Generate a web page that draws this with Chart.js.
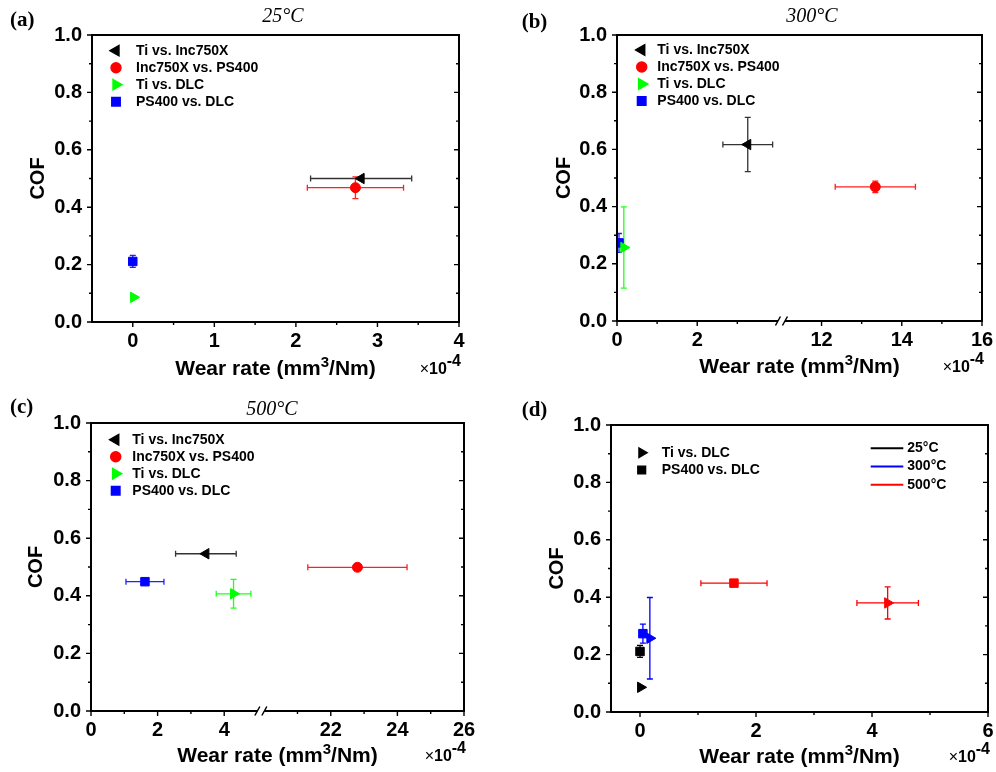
<!DOCTYPE html>
<html lang="en">
<head>
<meta charset="UTF-8" />
<title>COF vs wear rate</title>
<script src="https://cdn.jsdelivr.net/npm/chart.js"></script>
<style>
  body { margin: 0; background: #fff; }
  .panel { position: absolute; width: 498px; height: 386px; }
</style>
</head>
<body>
<div class="panel" style="left:0;top:0"><canvas id="chartA" width="498" height="386"></canvas></div>
<div class="panel" style="left:498px;top:0"><canvas id="chartB" width="498" height="386"></canvas></div>
<div class="panel" style="left:0;top:386px"><canvas id="chartC" width="498" height="386"></canvas></div>
<div class="panel" style="left:498px;top:386px"><canvas id="chartD" width="498" height="386"></canvas></div>
<script>
// tribo pairs, panels a-c
const pairs = ['Ti vs. Inc750X', 'Inc750X vs. PS400', 'Ti vs. DLC', 'PS400 vs. DLC'];

// (a) 25°C  (wear rate in 1e-4 mm3/Nm)
const wear25 = [2.80, 2.73, 0.01, 0.00];
const wear25Err = [0.62, 0.59, 0, 0];
const cof25 = [0.500, 0.468, 0.086, 0.211];
const cof25Err = [0, 0.038, 0, 0.021];

// (b) 300°C
const wear300 = [3.26, 13.34, 0.17, 0.05];
const wear300Err = [0.62, 1.00, 0, 0];
const cof300 = [0.617, 0.469, 0.257, 0.273];
const cof300Err = [0.095, 0.020, 0.142, 0.033];

// (c) 500°C
const wear500 = [3.45, 22.80, 4.28, 1.62];
const wear500Err = [0.91, 1.49, 0.52, 0.57];
const cof500 = [0.546, 0.499, 0.407, 0.449];
const cof500Err = [0, 0.008, 0.050, 0];

// (d) DLC pairs per temperature: [Ti vs. DLC, PS400 vs. DLC]
const temps = ['25°C', '300°C', '500°C'];
const dlcPairs = ['Ti vs. DLC', 'PS400 vs. DLC'];
const dlcWear = [[0.01, 0.00], [0.17, 0.05], [4.27, 1.62]];
const dlcWearErr = [[0, 0], [0, 0], [0.53, 0.57]];
const dlcCof = [[0.086, 0.211], [0.257, 0.273], [0.380, 0.449]];
const dlcCofErr = [[0, 0.021], [0.142, 0.033], [0.056, 0]];

// tick labels
const yTicks = [0, 0.2, 0.4, 0.6, 0.8, 1.0];
const yMinor = [0.1, 0.3, 0.5, 0.7, 0.9];
const xTicksA = [0, 1, 2, 3, 4];
const xMinorA = [0.5, 1.5, 2.5, 3.5];
const xTicksB = [0, 2, 12, 14, 16];
const xMinorB = [1, 3, 13, 15];
const xTicksC = [0, 2, 4, 22, 24, 26];
const xMinorC = [1, 3, 21, 23, 25];
const xTicksD = [0, 2, 4, 6];
const xMinorD = [1, 3, 5];

// styles
const pairColors = ['#000000', '#ff0000', '#00ff00', '#0000ff'];
const pairBars = ['#333333', '#ff2020', '#20ff20', '#2020ff'];
const pairMarks = [
  { style: 'triangle', rot: -90, r: 6 },
  { style: 'circle', rot: 0, r: 5 },
  { style: 'triangle', rot: 90, r: 6 },
  { style: 'rect', rot: 0, r: 6 }
];
const tempColors = ['#000000', '#0000ff', '#ff0000'];

const FONT = 'Liberation Sans';
Chart.defaults.font.family = FONT;
Chart.defaults.color = '#000';

// broken axis: values above b are shifted down so the gap a..b disappears
const brk = (a, b) => v => (v <= a ? v : v - (b - a));
const same = v => v;
const mapB = brk(4.1, 11.0);
const mapC = brk(5.1, 19.9);

function point(x, xe, y, ye, map) {
  return { x: map(x), y: y, xLo: map(x - xe), xHi: map(x + xe), yLo: y - ye, yHi: y + ye };
}

function pairSets(wear, wearErr, cof, cofErr, map) {
  return pairs.map((name, i) => ({
    label: name,
    data: [point(wear[i], wearErr[i], cof[i], cofErr[i], map)],
    pointStyle: pairMarks[i].style,
    rotation: pairMarks[i].rot,
    pointRadius: pairMarks[i].r,
    pointBorderWidth: 1,
    backgroundColor: pairColors[i],
    borderColor: pairColors[i],
    barColor: pairBars[i]
  }));
}

const dSets = temps.map((t, k) => ({
  label: t,
  data: dlcPairs.map((p, j) => point(dlcWear[k][j], dlcWearErr[k][j], dlcCof[k][j], dlcCofErr[k][j], same)),
  pointStyle: ['triangle', 'rect'],
  rotation: [90, 0],
  pointRadius: [6, 6],
  pointBorderWidth: 1,
  backgroundColor: tempColors[k],
  borderColor: tempColors[k],
  barColor: tempColors[k]
}));

function mark(ctx, style, rot, r, x, y, color) {
  ctx.fillStyle = color;
  ctx.strokeStyle = color;
  Chart.helpers.drawPoint(ctx, { pointStyle: style, rotation: rot, radius: r, borderWidth: 1 }, x, y);
}

function richText(ctx, parts, x, y, align) {
  let w = 0;
  parts.forEach(p => { ctx.font = p.font; w += ctx.measureText(p.t).width; });
  let cx = align === 'center' ? x - w / 2 : align === 'right' ? x - w : x;
  ctx.textAlign = 'left';
  ctx.textBaseline = 'alphabetic';
  parts.forEach(p => {
    ctx.font = p.font;
    ctx.fillText(p.t, cx, y + (p.dy || 0));
    cx += ctx.measureText(p.t).width;
  });
}

function framePlugin(cfg) {
  return {
    id: 'frame' + cfg.tag,
    beforeDatasetsDraw(chart) {
      const ctx = chart.ctx, xs = chart.scales.x, ys = chart.scales.y;
      ctx.save();
      ctx.lineWidth = 1.3;
      chart.data.datasets.forEach(ds => ds.data.forEach(d => {
        const px = xs.getPixelForValue(d.x), py = ys.getPixelForValue(d.y);
        ctx.strokeStyle = ds.barColor;
        ctx.beginPath();
        if (d.xHi > d.x) {
          const a = xs.getPixelForValue(d.xLo), b = xs.getPixelForValue(d.xHi);
          ctx.moveTo(a, py); ctx.lineTo(b, py);
          ctx.moveTo(a, py - 3); ctx.lineTo(a, py + 3);
          ctx.moveTo(b, py - 3); ctx.lineTo(b, py + 3);
        }
        if (d.yHi > d.y) {
          const a = ys.getPixelForValue(d.yLo), b = ys.getPixelForValue(d.yHi);
          ctx.moveTo(px, a); ctx.lineTo(px, b);
          ctx.moveTo(px - 3, a); ctx.lineTo(px + 3, a);
          ctx.moveTo(px - 3, b); ctx.lineTo(px + 3, b);
        }
        ctx.stroke();
      }));
      ctx.restore();
    },
    afterDraw(chart) {
      const ctx = chart.ctx, xs = chart.scales.x, ys = chart.scales.y;
      const { left, right, top, bottom } = chart.chartArea;
      ctx.save();
      ctx.strokeStyle = '#000';
      ctx.lineWidth = 2;
      ctx.strokeRect(left, top, right - left, bottom - top);

      // ticks: left/bottom outward, right inward
      ctx.lineWidth = 1.4;
      ctx.beginPath();
      const yt = (vals, len) => vals.forEach(v => {
        const p = ys.getPixelForValue(v);
        ctx.moveTo(left - len, p); ctx.lineTo(left, p);
        ctx.moveTo(right - len, p); ctx.lineTo(right, p);
      });
      const xt = (vals, len) => vals.forEach(v => {
        const p = xs.getPixelForValue(cfg.map(v));
        ctx.moveTo(p, bottom); ctx.lineTo(p, bottom + len);
      });
      yt(yTicks, 5); yt(yMinor, 3);
      xt(cfg.xTicks, 5); xt(cfg.xMinor, 3);
      ctx.stroke();

      // axis break marks
      if (cfg.breakAt != null) {
        const p = xs.getPixelForValue(cfg.breakAt);
        ctx.fillStyle = '#fff';
        ctx.fillRect(p - 3.5, bottom - 2, 7, 4);
        ctx.lineWidth = 1.5;
        ctx.beginPath();
        [-3.5, 3.5].forEach(o => {
          ctx.moveTo(p + o - 2.5, bottom + 4.5);
          ctx.lineTo(p + o + 2.5, bottom - 4.5);
        });
        ctx.stroke();
      }

      ctx.fillStyle = '#000';
      // x axis title with superscript
      const cx = (left + right) / 2;
      richText(ctx, [
        { t: 'Wear rate (mm', font: 'bold 21px "' + FONT + '"' },
        { t: '3', font: 'bold 15px "' + FONT + '"', dy: -8 },
        { t: '/Nm)', font: 'bold 21px "' + FONT + '"' }
      ], cx, cfg.titleY, 'center');
      richText(ctx, [
        { t: '×', font: '16px "' + FONT + '"' },
        { t: '10', font: 'bold 16px "' + FONT + '"' },
        { t: '-4', font: 'bold 16px "' + FONT + '"', dy: -8 }
      ], right + 2, cfg.titleY - 1, 'right');

      // panel label and temperature
      ctx.textBaseline = 'middle';
      ctx.textAlign = 'left';
      ctx.font = 'bold 21px "Liberation Serif"';
      ctx.fillText(cfg.label[0], cfg.label[1], cfg.label[2]);
      if (cfg.temp) {
        ctx.textAlign = 'center';
        ctx.font = 'italic 20px "Liberation Serif"';
        ctx.fillText(cfg.temp[0], cfg.temp[1], cfg.temp[2]);
      }

      // legends
      ctx.font = 'bold 14px "' + FONT + '"';
      ctx.textAlign = 'left';
      ctx.textBaseline = 'middle';
      if (cfg.legend) {
        const L = cfg.legend;
        chart.data.datasets.forEach((ds, i) => {
          const y = L.y + i * L.dy;
          mark(ctx, ds.pointStyle, ds.rotation, ds.pointRadius, L.x, y, ds.backgroundColor);
          ctx.fillStyle = '#000';
          ctx.fillText(ds.label, L.x + L.dx, y);
        });
      }
      if (cfg.markLegend) {
        const L = cfg.markLegend;
        const ds = chart.data.datasets[0];
        dlcPairs.forEach((name, j) => {
          const y = L.y + j * L.dy;
          mark(ctx, ds.pointStyle[j], ds.rotation[j], 5.5, L.x, y, '#000');
          ctx.fillStyle = '#000';
          ctx.fillText(name, L.x + L.dx, y);
        });
      }
      if (cfg.lineLegend) {
        const L = cfg.lineLegend;
        chart.data.datasets.forEach((ds, k) => {
          const y = L.y + k * L.dy;
          ctx.strokeStyle = ds.borderColor;
          ctx.lineWidth = 2;
          ctx.beginPath(); ctx.moveTo(L.x1, y); ctx.lineTo(L.x2, y); ctx.stroke();
          ctx.fillStyle = '#000';
          ctx.fillText(ds.label, L.x2 + 4, y);
        });
      }
      ctx.restore();
    }
  };
}

const tickFont = { size: 20, weight: 'bold' };

function panel(id, cfg) {
  const [bl, bt, br, bb] = cfg.box;
  return new Chart(document.getElementById(id), {
    type: 'scatter',
    data: { datasets: cfg.datasets },
    options: {
      responsive: false,
      animation: false,
      events: [],
      layout: { padding: { left: 0, top: bt, right: br, bottom: 0 } },
      plugins: { legend: { display: false }, tooltip: { enabled: false } },
      scales: {
        x: {
          type: 'linear',
          min: cfg.xMin,
          max: cfg.xMax,
          grid: { display: false, drawTicks: false },
          border: { display: false },
          ticks: {
            autoSkip: false, maxRotation: 0, padding: 7.5, font: tickFont, color: '#000',
            callback: (v, i) => String(cfg.xTicks[i])
          },
          afterBuildTicks: s => { s.ticks = cfg.xTicks.map(v => ({ value: cfg.map(v) })); },
          afterFit: s => { s.height = bb; s.paddingLeft = 0; s.paddingRight = 0; }
        },
        y: {
          min: 0,
          max: 1,
          grid: { display: false, drawTicks: false },
          border: { display: false },
          ticks: {
            autoSkip: false, padding: 10, font: tickFont, color: '#000',
            callback: v => v.toFixed(1)
          },
          title: { display: true, text: 'COF', font: { size: 20, weight: 'bold' }, color: '#000', padding: cfg.yTitlePad },
          afterBuildTicks: s => { s.ticks = yTicks.map(v => ({ value: v })); },
          afterFit: s => { s.width = bl; s.paddingTop = 0; s.paddingBottom = 0; }
        }
      }
    },
    plugins: [framePlugin(cfg)]
  });
}

panel('chartA', {
  tag: 'A', datasets: pairSets(wear25, wear25Err, cof25, cof25Err, same),
  map: same, xMin: -0.5, xMax: 4, xTicks: xTicksA, xMinor: xMinorA,
  box: [92, 35, 39, 64], yTitlePad: 26, titleY: 375,
  label: ['(a)', 10, 21], temp: ['25°C', 283, 17],
  legend: { x: 116, y: 50.7, dy: 17, dx: 20 }
});

panel('chartB', {
  tag: 'B', datasets: pairSets(wear300, wear300Err, cof300, cof300Err, mapB),
  map: mapB, xMin: 0, xMax: mapB(16), xTicks: xTicksB, xMinor: xMinorB, breakAt: 4.1,
  box: [119, 35, 14, 65], yTitlePad: 54, titleY: 373,
  label: ['(b)', 23.7, 23], temp: ['300°C', 314, 17],
  legend: { x: 143.7, y: 50, dy: 17, dx: 15.6 }
});

panel('chartC', {
  tag: 'C', datasets: pairSets(wear500, wear500Err, cof500, cof500Err, mapC),
  map: mapC, xMin: 0, xMax: mapC(26), xTicks: xTicksC, xMinor: xMinorC, breakAt: 5.1,
  box: [91, 37, 34, 61], yTitlePad: 24, titleY: 376,
  label: ['(c)', 10, 22], temp: ['500°C', 272, 24],
  legend: { x: 115.7, y: 53.7, dy: 17, dx: 16.6 }
});

panel('chartD', {
  tag: 'D', datasets: dSets,
  map: same, xMin: -0.5, xMax: 6, xTicks: xTicksD, xMinor: xMinorD,
  box: [113, 39, 8, 60], yTitlePad: 47.5, titleY: 377,
  label: ['(d)', 23.7, 25],
  markLegend: { x: 143.7, y: 66.7, dy: 17.3, dx: 20 },
  lineLegend: { x1: 372.7, x2: 405.3, y: 62.3, dy: 18.2 }
});
</script>
</body>
</html>
